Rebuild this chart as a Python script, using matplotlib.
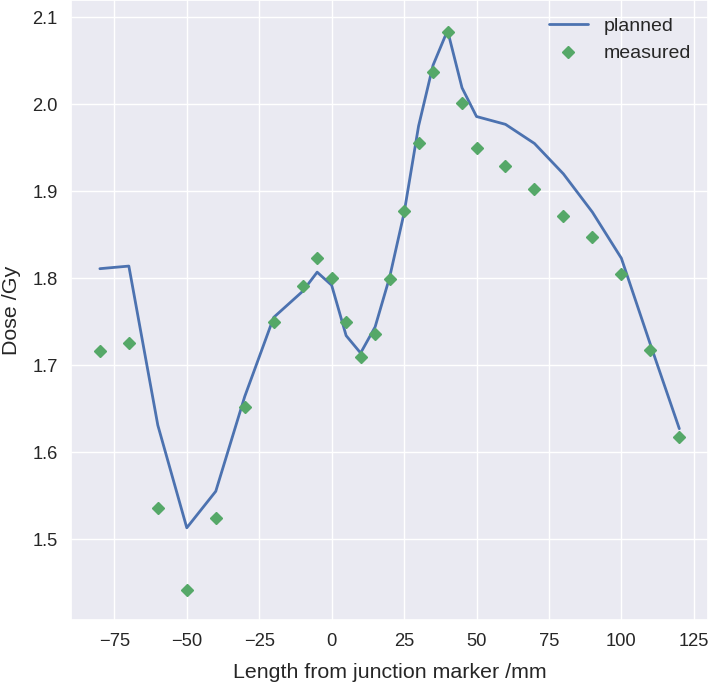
import matplotlib
matplotlib.use("Agg")
import matplotlib.pyplot as plt
import seaborn as sns

# distance from junction marker (mm)
planned_x = [-80, -70, -60, -50, -40, -30, -20, -10, -5, 0, 5, 10, 15, 20, 25, 30, 35,
             40, 45, 50, 60, 70, 80, 90, 100, 110, 120]
planned_dose = [1.811, 1.814, 1.631, 1.513, 1.555, 1.664, 1.755, 1.785, 1.807, 1.792,
                1.734, 1.714, 1.744, 1.801, 1.875, 1.975, 2.045, 2.085, 2.019, 1.986,
                1.977, 1.955, 1.920, 1.876, 1.823, 1.724, 1.627]

measured_x = [-80, -70, -60, -50, -40, -30, -20, -10, -5, 0, 5, 10, 15, 20, 25, 30, 35,
              40, 45, 50, 60, 70, 80, 90, 100, 110, 120]
measured_dose = [1.716, 1.726, 1.536, 1.442, 1.524, 1.652, 1.750, 1.791, 1.823, 1.800,
                 1.750, 1.709, 1.736, 1.799, 1.877, 1.955, 2.037, 2.083, 2.001, 1.950,
                 1.929, 1.903, 1.872, 1.847, 1.805, 1.718, 1.617]

sns.set_theme(style="darkgrid")
plt.rcParams['font.family'] = ['Liberation Sans', 'DejaVu Sans']

fig = plt.figure(figsize=(7.09, 6.84), dpi=100)
ax = fig.add_axes([0.100, 0.0936, 0.899, 0.9064])

ax.plot(planned_x, planned_dose, color="#4C72B0", lw=2, label="planned")
ax.plot(measured_x, measured_dose, "D", color="#55A868", ms=6.5, label="measured")

ax.set_xticks([-75, -50, -25, 0, 25, 50, 75, 100, 125])
ax.set_ylim(1.407, 2.120)
ax.tick_params(labelsize=13.2)
ax.set_xlabel("Length from junction marker /mm", fontsize=15.4, labelpad=9)
ax.set_ylabel("Dose /Gy", fontsize=15.4, labelpad=8)
ax.legend(loc="upper right", frameon=False, fontsize=14)

fig.savefig("out.png", dpi=100)
